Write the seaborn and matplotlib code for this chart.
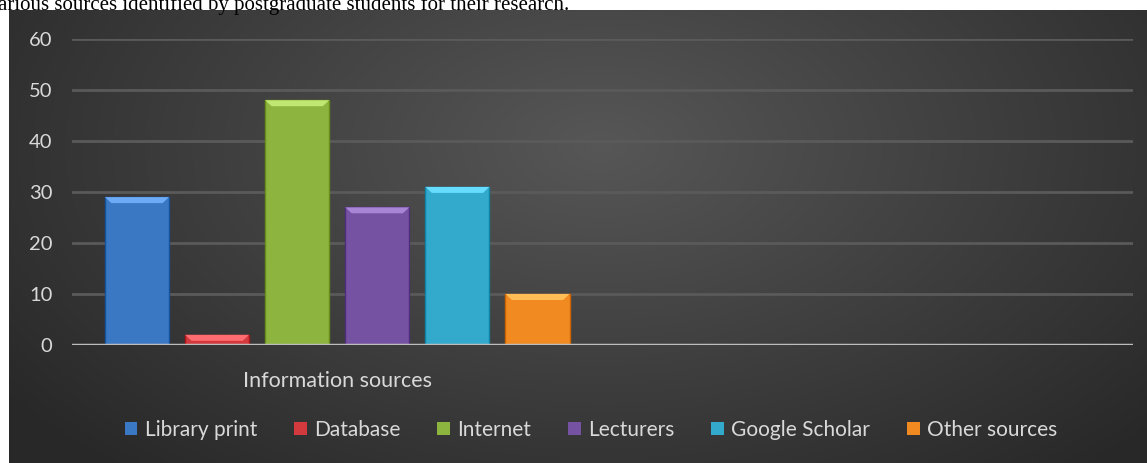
import numpy as np
import pandas as pd
import seaborn as sns
import matplotlib.pyplot as plt
from matplotlib.patches import Polygon

sources = ["Library print", "Database", "Internet", "Lecturers", "Google Scholar", "Other sources"]
values = [29, 2, 48, 27, 31, 10]
colors = ["#3b78c4", "#d23a3e", "#8cb43e", "#7653a2", "#33a9cc", "#f28a22"]
group_label = "Information sources"
yticks = [0, 10, 20, 30, 40, 50, 60]
caption = "arious sources identified by postgraduate students for their research."

df = pd.DataFrame({"group": [group_label] * len(sources), "source": sources, "value": values})

sns.set_style("dark")
plt.rcParams["font.family"] = ["Lato", "DejaVu Sans"]

W, H = 1147, 463
fig = plt.figure(figsize=(W / 100, H / 100), dpi=100)
fig.patch.set_facecolor("white")

# dark gradient panel behind the chart
bg = fig.add_axes([9 / W, 0, 1 - 9 / W, 1 - 10 / H])
bg.set_axis_off()
gx, gy = np.meshgrid(np.linspace(0, 1, 400), np.linspace(0, 1, 200))
r = np.sqrt(((gx - 0.52) / 0.75) ** 2 + ((gy - 0.3) / 1.1) ** 2)
shade = np.clip(0.34 - 0.21 * r, 0.16, 0.34)
bg.imshow(np.dstack([shade] * 3), aspect="auto", extent=[0, 1, 0, 1], origin="upper")

ax = fig.add_axes([72 / W, 1 - 345 / H, (1133 - 72) / W, (345 - 39) / H])
ax.set_facecolor("none")
sns.barplot(data=df, x="group", y="value", hue="source", palette=colors,
            width=0.906, gap=0.2, ax=ax, saturation=1, edgecolor="none", legend=True)
ax.set_xlim(-0.5, 1.5)
ax.set_ylim(0, 60)
ax.set_yticks(yticks)
ax.set_xlabel("")
ax.set_ylabel("")
ax.grid(axis="y", color="#5a5a5a", linewidth=2)
ax.grid(axis="x", visible=False)
ax.axhline(0, color="#bdbdbd", linewidth=2.5, zorder=5)
for s in ax.spines.values():
    s.set_visible(False)
ax.tick_params(axis="both", length=0, colors="#d9d9d9")
ax.tick_params(axis="y", labelsize=14.5, pad=14)
ax.tick_params(axis="x", labelsize=15.5, pad=19)

# bevel highlight on bar tops
for p in ax.patches:
    x0, y0 = p.get_x(), p.get_y()
    w, h = p.get_width(), p.get_height()
    if h <= 0:
        continue
    c = np.array(p.get_facecolor()[:3])
    top = y0 + h
    dy = min(h * 0.6, 60 * 6 / 306)
    dx = w * 0.1
    light = np.clip(c + 0.2, 0, 1)
    ax.add_patch(Polygon([[x0, top], [x0 + w, top], [x0 + w - dx, top - dy], [x0 + dx, top - dy]],
                         closed=True, facecolor=light, edgecolor="none", zorder=p.get_zorder() + 0.1))
    p.set_edgecolor(np.clip(c - 0.15, 0, 1))
    p.set_linewidth(1)

handles, labels = ax.get_legend_handles_labels()
ax.get_legend().remove()
fig.legend(handles, labels, loc="center", bbox_to_anchor=(591 / W, 1 - 430 / H), ncol=6,
           frameon=False, fontsize=15, labelcolor="#d9d9d9", handlelength=0.6, handleheight=0.6,
           handletextpad=0.35, columnspacing=1.78)

fig.text(-2 / W, 1 + 5 / H, caption, family="Liberation Serif", fontsize=15, color="black",
         va="top", ha="left")

fig.savefig("out.png", dpi=100, facecolor="white")
